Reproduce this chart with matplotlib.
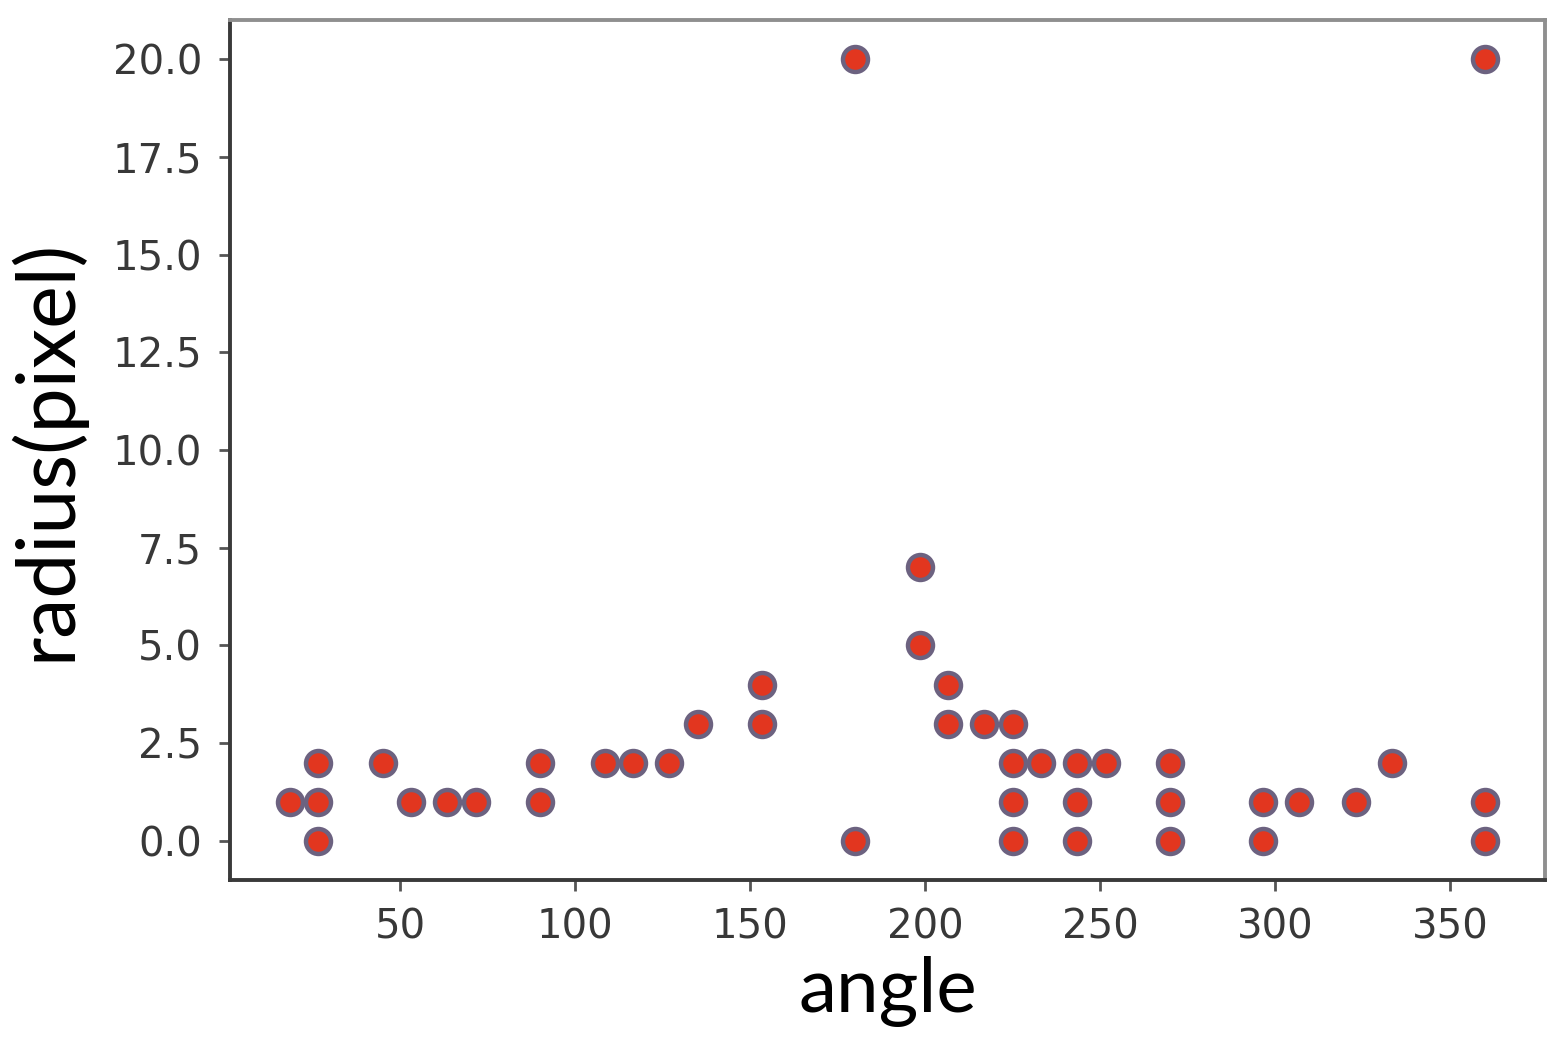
import matplotlib
import matplotlib.pyplot as plt
import numpy as np

matplotlib.use('AGG')

# angle (deg) and radius (pixel) of each point
angle = [18.43, 26.57, 26.57, 26.57, 45, 53.13, 63.43, 71.57, 90, 90,
         108.43, 116.57, 126.87, 135, 153.43, 153.43, 180, 180,
         198.43, 198.43, 206.57, 206.57, 216.87, 225, 225, 225, 225,
         233.13, 243.43, 243.43, 243.43, 251.57, 270, 270, 270,
         296.57, 296.57, 306.87, 323.13, 333.43, 360, 360, 360]
radius = [1, 2, 1, 0, 2, 1, 1, 1, 2, 1,
          2, 2, 2, 3, 4, 3, 20, 0,
          7, 5, 4, 3, 3, 3, 2, 1, 0,
          2, 2, 1, 0, 2, 2, 1, 0,
          1, 0, 1, 1, 2, 20, 1, 0]

fig = plt.figure(figsize=(15.65, 10.59), dpi=100)
ax = fig.add_axes([230/1565, 1-880/1059, 1315/1565, 860/1059])

ax.plot(angle, radius, 'o', markersize=18, markerfacecolor='#e2361f',
        markeredgecolor='#6c6280', markeredgewidth=3.2, linestyle='none')

ax.set_yticks(np.arange(0, 20.1, 2.5))
ax.set_xticks([50, 100, 150, 200, 250, 300, 350])

tick_font = ['DejaVu Sans Condensed', 'DejaVu Sans']
for lab in ax.get_xticklabels() + ax.get_yticklabels():
    lab.set_family(tick_font)
ax.tick_params(labelsize=29, colors='#555555', labelcolor='#383838',
               length=8, width=2, pad=12)

for side in ['left', 'bottom']:
    ax.spines[side].set_color('#3a3a3a')
    ax.spines[side].set_linewidth(2.8)
for side in ['top', 'right']:
    ax.spines[side].set_color('#8f8f8f')
    ax.spines[side].set_linewidth(2.8)

ax.set_xlabel('angle', fontsize=55, family='Lato', labelpad=6)
ax.set_ylabel('radius(pixel)', fontsize=58, family='Lato', labelpad=20)

plt.savefig('out.png', dpi=100)
